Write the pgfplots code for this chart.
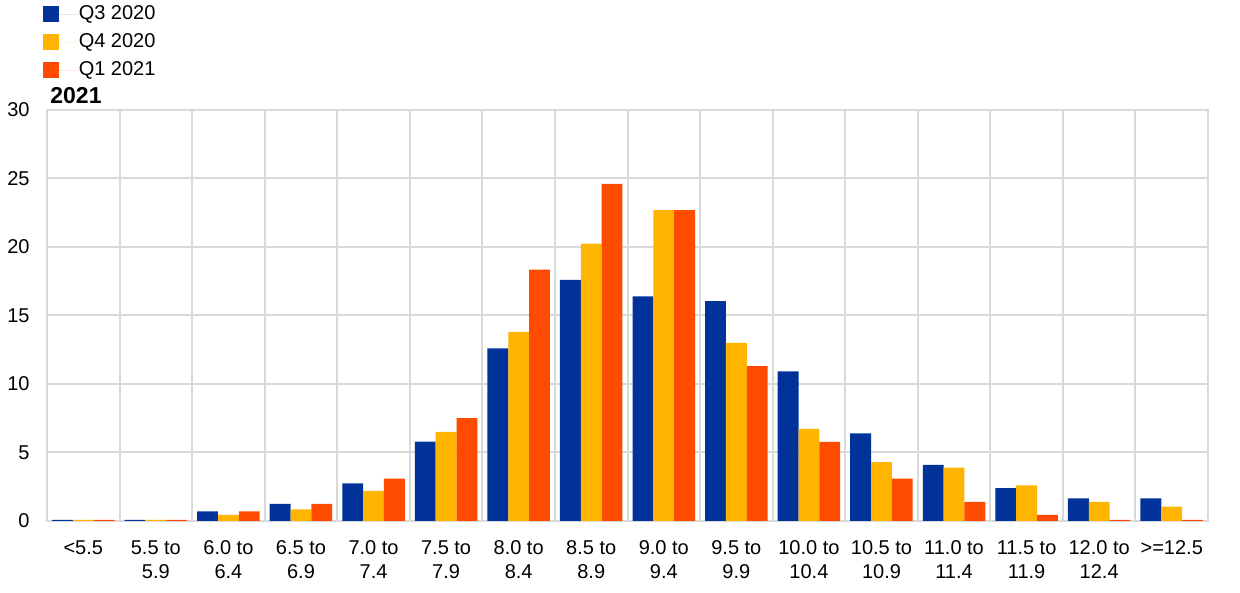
\documentclass[border=0pt]{standalone}
\usepackage{fontspec}
\setmainfont{Liberation Sans}
\usepackage{pgfplots}
\pgfplotsset{compat=1.18}
\definecolor{ecbblue}{HTML}{003299}
\definecolor{ecbyellow}{HTML}{FFB400}
\definecolor{ecborange}{HTML}{FF4B00}
\definecolor{gridgrey}{HTML}{D9D9D9}

\begin{document}
\fontsize{10}{12}\selectfont
\begin{tikzpicture}
  \begin{axis}[
      scale only axis,
      width=580.5pt,
      height=205.5pt,
      clip=false,
      ybar=0pt,
      bar width=0.287,
      xmin=-0.5, xmax=15.5,
      ymin=0, ymax=30,
      xtick={0,...,15},
      xticklabels={{<5.5},{5.5 to\\5.9},{6.0 to\\6.4},{6.5 to\\6.9},{7.0 to\\7.4},
        {7.5 to\\7.9},{8.0 to\\8.4},{8.5 to\\8.9},{9.0 to\\9.4},{9.5 to\\9.9},
        {10.0 to\\10.4},{10.5 to\\10.9},{11.0 to\\11.4},{11.5 to\\11.9},
        {12.0 to\\12.4},{>=12.5}},
      minor xtick={-0.5,0.5,...,15.5},
      ytick={0,5,...,30},
      xminorgrids=true,
      ymajorgrids=true,
      major tick length=0pt,
      minor tick length=0pt,
      grid style={draw=gridgrey, line width=1pt},
      minor grid style={draw=gridgrey, line width=1pt},
      axis line style={draw=gridgrey, line width=1pt},
      /pgf/number format/assume math mode=true,
      tick label style={font=\fontsize{10}{12}\selectfont},
      yticklabel style={inner sep=0pt, xshift=-8.5pt},
      xticklabel style={align=center, inner sep=0pt, anchor=north, yshift=-9.5pt},
      legend cell align=left,
      legend style={
        at={(-0.004,1.268)}, anchor=north west,
        draw=none, fill=none, inner sep=0pt,
        row sep=0pt, column sep=0pt,
        font=\fontsize{10}{12}\selectfont,
        nodes={inner sep=0pt, minimum height=14pt}
      },
      legend image code/.code={
        \fill[#1] (0pt,-4pt) rectangle (8pt,4pt);
        \path (0pt,0pt) -- (18pt,0pt);
      },
    ]
    \addplot[fill=ecbblue, draw=none] coordinates {
      (0,0.08) (1,0.08) (2,0.7) (3,1.25) (4,2.75) (5,5.8) (6,12.6) (7,17.6)
      (8,16.4) (9,16.05) (10,10.93) (11,6.4) (12,4.1) (13,2.4) (14,1.65) (15,1.65)
    };
    \addplot[fill=ecbyellow, draw=none] coordinates {
      (0,0.08) (1,0.08) (2,0.45) (3,0.85) (4,2.2) (5,6.5) (6,13.8) (7,20.25)
      (8,22.7) (9,13.0) (10,6.73) (11,4.3) (12,3.9) (13,2.6) (14,1.4) (15,1.05)
    };
    \addplot[fill=ecborange, draw=none] coordinates {
      (0,0.08) (1,0.08) (2,0.7) (3,1.25) (4,3.1) (5,7.5) (6,18.35) (7,24.6)
      (8,22.7) (9,11.3) (10,5.78) (11,3.1) (12,1.4) (13,0.45) (14,0.08) (15,0.08)
    };
    \legend{Q3 2020, Q4 2020, Q1 2021}
    \coordinate (O) at (rel axis cs:0,0);
    \node[anchor=base west, inner sep=0pt, font=\fontsize{11.5}{12}\selectfont\bfseries]
      at ([xshift=1.5pt,yshift=3pt]rel axis cs:0,1) {2021};
  \end{axis}
  \pgfresetboundingbox
  \path (O) ++(-23.5pt,-36pt) rectangle ++(620pt,296.5pt);
\end{tikzpicture}
\end{document}
